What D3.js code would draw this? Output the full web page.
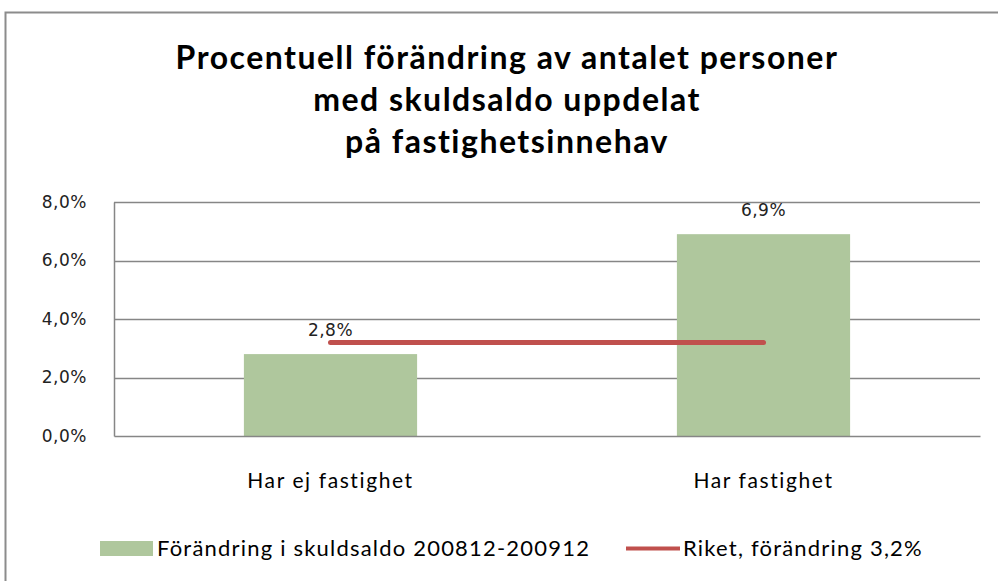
<!DOCTYPE html>
<html>
<head>
<meta charset="utf-8">
<script src="https://cdn.jsdelivr.net/npm/d3@7"></script>
<style>
  body { margin: 0; background: #fff; }
  svg { display: block; }
</style>
</head>
<body>
<div id="main"></div>
<script>
const titleLines = ["Procentuell förändring av antalet personer", "med skuldsaldo uppdelat", "på fastighetsinnehav"];
const categories = ["Har ej fastighet", "Har fastighet"];
const barValues = [2.8, 6.9];
const barLabels = ["2,8%", "6,9%"];
const riketValue = 3.2;
const yTicks = [0, 2, 4, 6, 8];
const yTickLabels = ["0,0%", "2,0%", "4,0%", "6,0%", "8,0%"];
const legendNames = ["Förändring i skuldsaldo 200812-200912", "Riket, förändring 3,2%"];

const width = 998;
const height = 581;
const plot = { left: 114, right: 980, top: 202, bottom: 436 };

const svg = d3.select("#main").append("svg").attr("width", width).attr("height", height);

// outer frame
svg.append("rect")
  .attr("x", 5.5).attr("y", 12.5)
  .attr("width", width + 10).attr("height", height + 10)
  .attr("fill", "none").attr("stroke", "#8c8c8c").attr("stroke-width", 2);

// title
svg.append("g").selectAll("text")
  .data(titleLines)
  .enter()
  .append("text")
  .attr("x", 507)
  .attr("y", (d, i) => 69 + i * 42)
  .attr("text-anchor", "middle")
  .attr("font-family", "Lato")
  .attr("font-weight", 700)
  .attr("font-size", 32)
  .attr("letter-spacing", 1.5)
  .attr("fill", "#000")
  .text((d) => d);

const x = d3.scaleBand().domain(categories).range([plot.left, plot.right]).padding(0);
const y = d3.scaleLinear().domain([0, 8]).range([plot.bottom, plot.top]);
const barW = x.bandwidth() * 0.4;

// gridlines
svg.append("g")
  .selectAll("line")
  .data(yTicks.slice(1))
  .enter()
  .append("line")
  .attr("x1", plot.left).attr("x2", plot.right)
  .attr("y1", (d) => Math.round(y(d)) + 0.5).attr("y2", (d) => Math.round(y(d)) + 0.5)
  .attr("stroke", "#868686").attr("stroke-width", 1.5);

// y axis
const yAxis = svg.append("g")
  .attr("transform", `translate(${plot.left}, 0)`)
  .call(d3.axisLeft(y).tickValues(yTicks).tickSize(0).tickPadding(27)
    .tickFormat((d, i) => yTickLabels[i]));
yAxis.select(".domain").attr("stroke", "#868686").attr("stroke-width", 1.5);
yAxis.selectAll("text")
  .attr("font-family", "DejaVu Sans")
  .attr("font-size", 17)
  .attr("letter-spacing", 0.5)
  .attr("fill", "#222");

// bars
svg.append("g")
  .selectAll("rect")
  .data(barValues)
  .enter()
  .append("rect")
  .attr("x", (d, i) => x(categories[i]) + (x.bandwidth() - barW) / 2)
  .attr("y", (d) => y(d))
  .attr("width", barW)
  .attr("height", (d) => y(0) - y(d))
  .attr("fill", "#afc79d");

// x axis
const xAxis = svg.append("g")
  .attr("transform", `translate(0, ${plot.bottom})`)
  .call(d3.axisBottom(x).tickSize(0).tickPadding(37));
xAxis.select(".domain").attr("stroke", "#868686").attr("stroke-width", 1.5);
xAxis.selectAll("text")
  .attr("font-family", "Lato")
  .attr("font-size", 21)
  .attr("letter-spacing", 1.6)
  .attr("fill", "#000");

// bar value labels
svg.append("g")
  .selectAll("text")
  .data(barValues)
  .enter()
  .append("text")
  .attr("x", (d, i) => x(categories[i]) + x.bandwidth() / 2)
  .attr("y", (d) => y(d) - 18)
  .attr("text-anchor", "middle")
  .attr("font-family", "DejaVu Sans")
  .attr("font-size", 17)
  .attr("letter-spacing", 0.5)
  .attr("fill", "#222")
  .text((d, i) => barLabels[i]);

// riket line
svg.append("path")
  .datum(categories)
  .attr("d", d3.line().x((d) => x(d) + x.bandwidth() / 2).y(() => y(riketValue)))
  .attr("fill", "none")
  .attr("stroke", "#c0504d")
  .attr("stroke-width", 5)
  .attr("stroke-linecap", "round");

// legend
const legend = svg.append("g").attr("font-family", "Lato").attr("font-size", 22)
  .attr("letter-spacing", 1.2).attr("fill", "#000");
legend.append("rect").attr("x", 100).attr("y", 541).attr("width", 53).attr("height", 15).attr("fill", "#afc79d");
legend.append("text").attr("x", 157).attr("y", 556).text(legendNames[0]);
legend.append("line").attr("x1", 626).attr("x2", 680).attr("y1", 548.5).attr("y2", 548.5)
  .attr("stroke", "#c0504d").attr("stroke-width", 4);
legend.append("text").attr("x", 683).attr("y", 556).text(legendNames[1]);
</script>
</body>
</html>
